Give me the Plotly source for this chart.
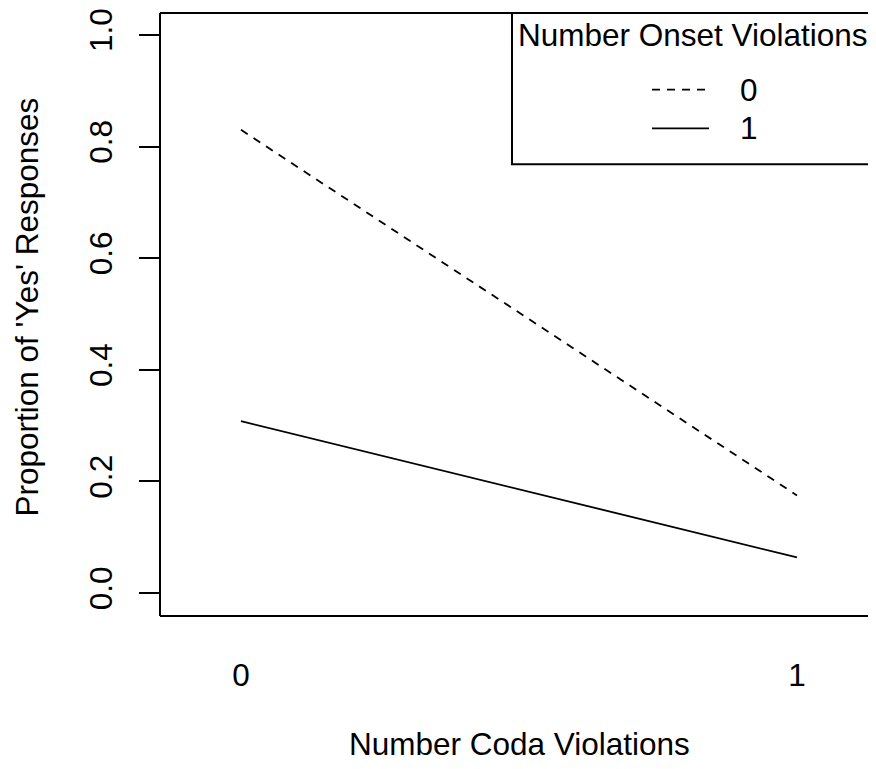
import plotly.graph_objects as go

# ---- data ----
coda_levels = [0, 1]                 # x categories: Number Coda Violations
coda_labels = ["0", "1"]
onset_levels = ["0", "1"]            # trace groups: Number Onset Violations
prop_onset0 = [0.830, 0.175]         # dashed
prop_onset1 = [0.308, 0.064]         # solid
y_ticks = [0.0, 0.2, 0.4, 0.6, 0.8, 1.0]
y_ticklabels = ["0.0", "0.2", "0.4", "0.6", "0.8", "1.0"]

OFF = 8  # page body margin
W, H = 876 - OFF, 769 - OFF
L, R, T, B = 160 - OFF, 0, 10 - OFF, 153
PW, PH = W - L - R, H - T - B

# convert reference pixel coords to paper coords
def px(x):
    return (x - OFF - L) / PW

def py(y):
    return (H - B - (y - OFF)) / PH

FONT = "Liberation Sans, Arial, Helvetica, sans-serif"
FS = 31.5

fig = go.Figure()
fig.add_trace(go.Scatter(x=coda_levels, y=prop_onset0, mode="lines",
                         line=dict(color="black", width=1.8, dash="8px,7px"),
                         name=onset_levels[0], showlegend=False))
fig.add_trace(go.Scatter(x=coda_levels, y=prop_onset1, mode="lines",
                         line=dict(color="black", width=1.8),
                         name=onset_levels[1], showlegend=False))

x0v = (160 - 241) / 556
x1v = (876 - 241) / 556
y0v = -0.041
y1v = 1.0392

fig.update_xaxes(range=[x0v, x1v], tickvals=coda_levels, ticktext=coda_labels,
                 ticks="", showgrid=False, zeroline=False, showline=False,
                 tickfont=dict(family=FONT, size=FS, color="black"),
                 ticklabelstandoff=37)
fig.update_yaxes(range=[y0v, y1v], tickvals=y_ticks, ticktext=y_ticklabels,
                 ticks="outside", ticklen=20, tickwidth=2, tickcolor="black",
                 tickangle=-90, showgrid=False, zeroline=False, showline=False,
                 tickfont=dict(family=FONT, size=FS, color="black"),
                 ticklabelstandoff=14, ticklabeloverflow="allow")

shapes = []
lw = 2
# plot box (left, bottom, top)
shapes.append(dict(type="line", xref="paper", yref="paper", x0=0, x1=0, y0=0, y1=1,
                   line=dict(color="black", width=lw)))
shapes.append(dict(type="line", xref="paper", yref="paper", x0=0, x1=1.01, y0=0, y1=0,
                   line=dict(color="black", width=lw)))
shapes.append(dict(type="line", xref="paper", yref="paper", x0=0, x1=1.01, y0=1, y1=1,
                   line=dict(color="black", width=lw)))
# legend box
shapes.append(dict(type="rect", xref="paper", yref="paper", x0=px(512), x1=1.05,
                   y0=py(162), y1=1, line=dict(color="black", width=lw)))
# legend samples
shapes.append(dict(type="line", xref="paper", yref="paper", x0=px(652), x1=px(709),
                   y0=py(87), y1=py(87),
                   line=dict(color="black", width=1.8, dash="8px,7px")))
shapes.append(dict(type="line", xref="paper", yref="paper", x0=px(652), x1=px(709),
                   y0=py(126), y1=py(126),
                   line=dict(color="black", width=1.8)))

annotations = []
annotations.append(dict(text="Number Onset Violations", xref="paper", yref="paper",
                        x=px(516), y=py(32), xanchor="left", yanchor="middle",
                        showarrow=False, font=dict(family=FONT, size=FS, color="black")))
annotations.append(dict(text=onset_levels[0], xref="paper", yref="paper",
                        x=px(749), y=py(87), xanchor="center", yanchor="middle",
                        showarrow=False, font=dict(family=FONT, size=FS, color="black")))
annotations.append(dict(text=onset_levels[1], xref="paper", yref="paper",
                        x=px(749), y=py(126), xanchor="center", yanchor="middle",
                        showarrow=False, font=dict(family=FONT, size=FS, color="black")))
# axis titles
annotations.append(dict(text="Number Coda Violations", xref="paper", yref="paper",
                        x=px(519), y=py(745), xanchor="center", yanchor="middle",
                        showarrow=False, font=dict(family=FONT, size=FS, color="black")))
annotations.append(dict(text="Proportion of 'Yes' Responses", xref="paper", yref="paper",
                        x=px(27), y=py(306), xanchor="center", yanchor="middle",
                        textangle=-90,
                        showarrow=False, font=dict(family=FONT, size=FS, color="black")))

fig.update_layout(width=W, height=H, margin=dict(l=L, r=R, t=T, b=B, pad=0),
                  plot_bgcolor="white", paper_bgcolor="white",
                  shapes=shapes, annotations=annotations, showlegend=False)

fig.write_html("out.html")
